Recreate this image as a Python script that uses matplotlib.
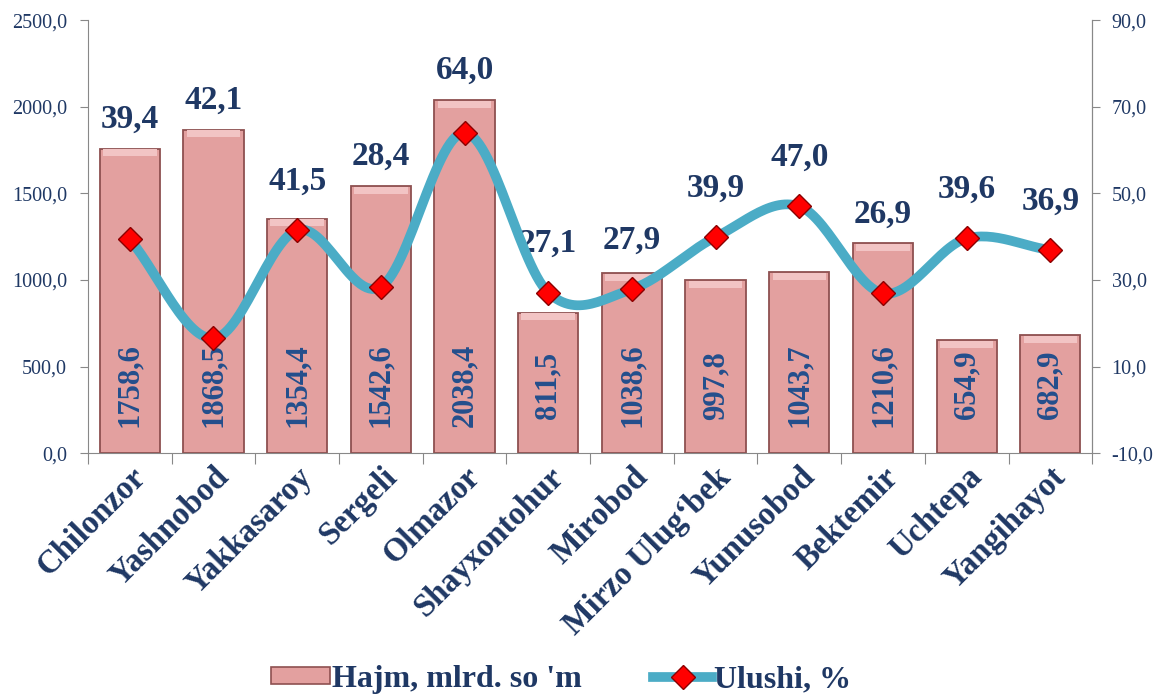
import numpy as np
import matplotlib
matplotlib.use("Agg")
import matplotlib.pyplot as plt
from matplotlib.lines import Line2D
from matplotlib.patches import Patch
import matplotlib.transforms as mtransforms

plt.rcParams['font.family'] = ['Liberation Serif', 'DejaVu Serif']

districts = ["Chilonzor", "Yashnobod", "Yakkasaroy", "Sergeli", "Olmazor", "Shayxontohur",
             "Mirobod", "Mirzo Ulug‘bek", "Yunusobod", "Bektemir", "Uchtepa", "Yangihayot"]
hajm = [1758.6, 1868.5, 1354.4, 1542.6, 2038.4, 811.5, 1038.6, 997.8, 1043.7, 1210.6, 654.9, 682.9]
ulushi = [39.4, 16.5, 41.5, 28.4, 64.0, 27.1, 27.9, 39.9, 47.0, 26.9, 39.6, 36.9]
ulushi_labels = ["39,4", "42,1", "41,5", "28,4", "64,0", "27,1", "27,9", "39,9", "47,0", "26,9", "39,6", "36,9"]
left_ticks = [0, 500, 1000, 1500, 2000, 2500]
right_ticks = [-10, 10, 30, 50, 70, 90]

navy = "#1F3864"
inner = "#234F8C"

fig = plt.figure(figsize=(11.57, 6.95), dpi=100)
ax = fig.add_axes([0.076, 0.348, 0.868, 0.623])
x = np.arange(len(districts))

ax.bar(x, hajm, width=0.72, color="#E3A09F", edgecolor="#8E5050", linewidth=1.3, zorder=2)
# bevel highlight on bar tops
ax.bar(x, [40] * len(x), bottom=[h - 45 for h in hajm], width=0.64, color="#F2C4C4",
       edgecolor="none", zorder=2.5)

ax.set_xlim(-0.5, len(x) - 0.5)
ax.set_ylim(0, 2500)
ax.set_yticks(left_ticks)
ax.set_yticklabels([f"{v:.1f}".replace(".", ",") for v in left_ticks], fontsize=14.5, color=navy)
ax.set_xticks(np.arange(-0.5, len(x), 1.0))
ax.set_xticklabels([])
ax.set_xticks(x, minor=True)
ax.set_xticklabels(districts, minor=True, rotation=45, ha="right", rotation_mode="anchor",
                   fontsize=23.5, fontweight="bold", color=navy)
ax.tick_params(axis="x", which="major", length=8, color="#888888", direction="out")
ax.tick_params(axis="x", which="minor", length=0, pad=6)
ax.tick_params(axis="y", length=6, color="#888888", direction="out", pad=9)
ax.spines["top"].set_visible(False)
for s in ["left", "right", "bottom"]:
    ax.spines[s].set_color("#888888")

ax2 = ax.twinx()
ax2.set_ylim(-10, 90)
ax2.set_yticks(right_ticks)
ax2.set_yticklabels([f"{v:.1f}".replace(".", ",") for v in right_ticks], fontsize=14.5, color=navy)
ax2.tick_params(axis="y", length=6, color="#888888", direction="out", pad=8)
for s in ["top", "left", "bottom"]:
    ax2.spines[s].set_visible(False)
ax2.spines["right"].set_color("#888888")

# labels inside bars
trans = mtransforms.blended_transform_factory(ax.transData, ax.transAxes)
for xi, h in zip(x, hajm):
    ax.text(xi, 0.157, f"{h:.1f}".replace(".", ","), transform=trans, rotation=90,
            ha="center", va="center", fontsize=22, fontweight="bold", color=inner, zorder=5)

# labels above the higher of bar top and point
for xi, h, u, lab in zip(x, hajm, ulushi, ulushi_labels):
    y_bar = h / 2500.0
    y_pt = (u + 10) / 100.0 + 0.045
    yy = max(y_bar, y_pt)
    ax.annotate(lab, (xi, yy), xycoords=trans, xytext=(0, 10), textcoords="offset points",
                ha="center", va="bottom", fontsize=24, fontweight="bold", color=navy, zorder=6)

# smooth curve (Catmull-Rom) through points, for drawing only
pts = np.column_stack([x, ulushi]).astype(float)
P = np.vstack([pts[0] - (pts[1] - pts[0]), pts, pts[-1] + (pts[-1] - pts[-2])])
curve = []
t = np.linspace(0, 1, 30)[:, None]
for i in range(1, len(P) - 2):
    p0, p1, p2, p3 = P[i - 1], P[i], P[i + 1], P[i + 2]
    seg = 0.5 * ((2 * p1) + (-p0 + p2) * t + (2 * p0 - 5 * p1 + 4 * p2 - p3) * t ** 2
                 + (-p0 + 3 * p1 - 3 * p2 + p3) * t ** 3)
    curve.append(seg)
curve = np.vstack(curve)
ax2.plot(curve[:, 0], curve[:, 1], color="#4BACC6", linewidth=7, solid_capstyle="round", zorder=3)
ax2.plot(x, ulushi, linestyle="none", marker="D", markersize=12, markerfacecolor="#FF0000",
         markeredgecolor="#8B0000", markeredgewidth=1.0, zorder=4)

handles = [Patch(facecolor="#E3A09F", edgecolor="#8E5050", linewidth=1.2),
           Line2D([0], [0], color="#4BACC6", linewidth=7, marker="D", markersize=12,
                  markerfacecolor="#FF0000", markeredgecolor="#8B0000")]
fig.legend(handles, ["Hajm, mlrd. so 'm", "Ulushi, %"], loc="lower center",
           bbox_to_anchor=(0.485, -0.04), ncol=2, frameon=False, columnspacing=2.25,
           handlelength=1.85, handleheight=0.45, handletextpad=0.05,
           prop={"family": "Liberation Serif", "weight": "bold", "size": 23}, labelcolor=navy)

fig.savefig("out.png", dpi=100)
